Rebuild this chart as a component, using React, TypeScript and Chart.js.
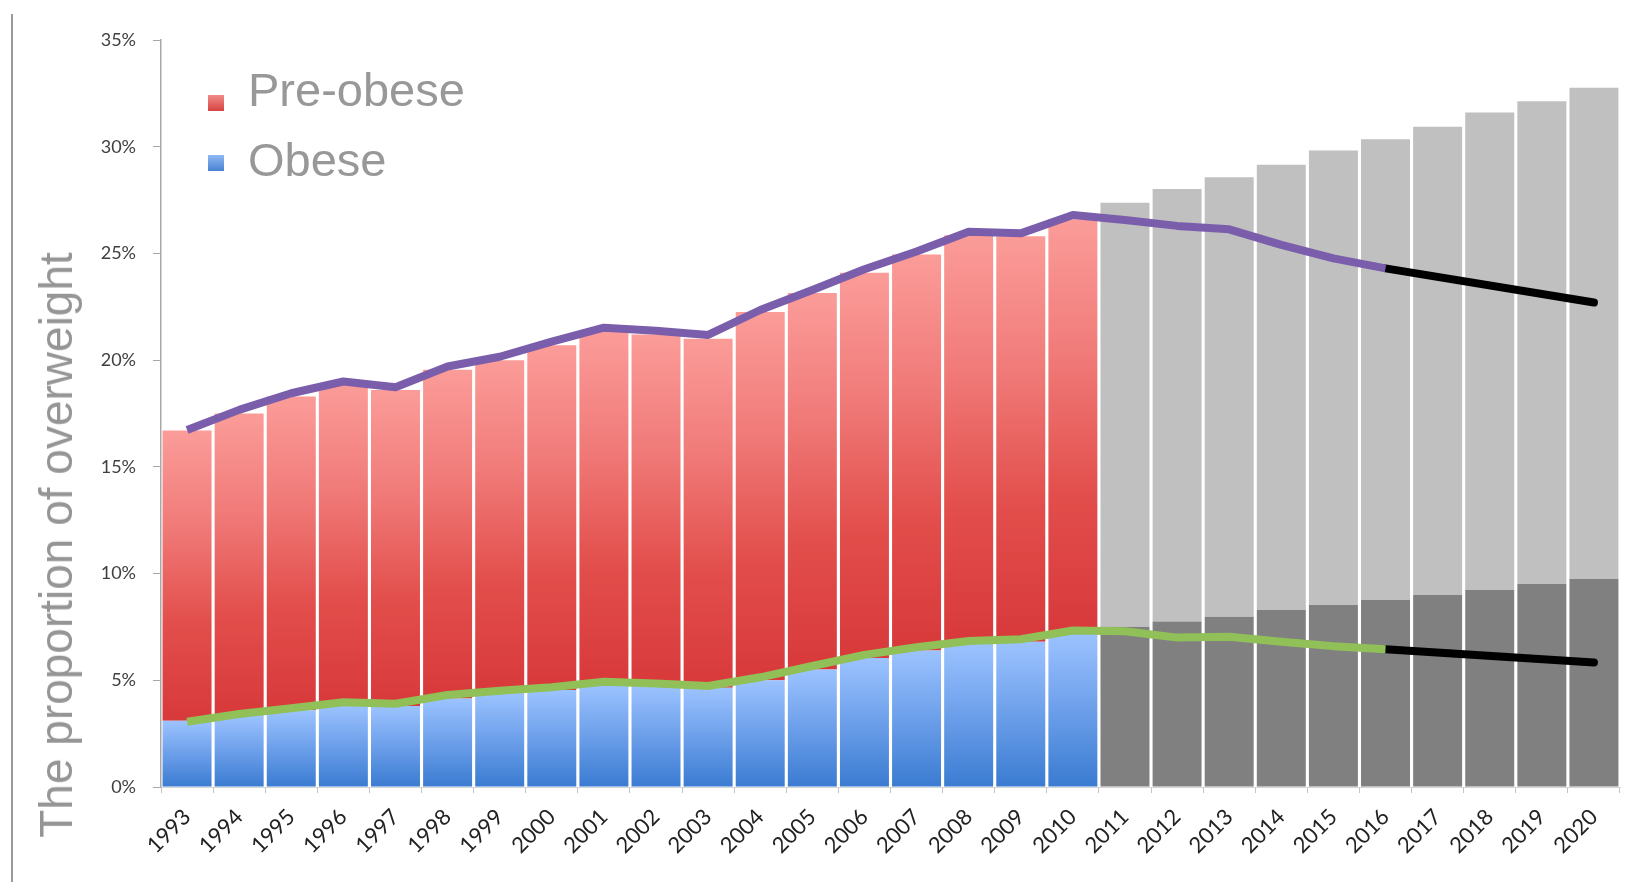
import { useEffect, useRef } from "react";
import { Chart, registerables } from "chart.js";

Chart.register(...registerables);

// Survey years 1993–2010 followed by projected years 2011–2020
const years = [
  "1993", "1994", "1995", "1996", "1997", "1998", "1999", "2000", "2001", "2002",
  "2003", "2004", "2005", "2006", "2007", "2008", "2009", "2010", "2011", "2012",
  "2013", "2014", "2015", "2016", "2017", "2018", "2019", "2020",
];

// index of the first projected year (2011)
const PROJECTION_START = 18;

// share of the population that is obese (%)
const obeseShare = [
  3.1, 3.35, 3.6, 3.85, 3.8, 4.15, 4.4, 4.55, 4.8, 4.75,
  4.65, 5.0, 5.5, 6.05, 6.4, 6.7, 6.8, 7.2, 7.51, 7.75,
  7.98, 8.29, 8.53, 8.76, 9.0, 9.23, 9.51, 9.75,
];

// share of the population that is overweight in total, pre-obese + obese (%)
const overweightShare = [
  16.7, 17.5, 18.3, 18.85, 18.6, 19.55, 20.0, 20.7, 21.35, 21.2,
  21.0, 22.25, 23.15, 24.1, 24.95, 25.85, 25.8, 26.6, 27.38, 28.02,
  28.57, 29.16, 29.82, 30.35, 30.94, 31.6, 32.13, 32.76,
];

// observed trend of total overweight, then the 2016–2020 outlook
const overweightTrend = [
  16.73, 17.67, 18.45, 19.0, 18.73, 19.7, 20.16, 20.87, 21.52, 21.38,
  21.18, 22.35, 23.29, 24.26, 25.09, 26.02, 25.94, 26.8, 26.57, 26.29,
  26.13, 25.4, 24.77, 24.3, null, null, null, null,
];
const overweightOutlook = [
  null, null, null, null, null, null, null, null, null, null,
  null, null, null, null, null, null, null, null, null, null,
  null, null, null, 24.3, null, null, null, 22.7,
];

// observed trend of obesity, then the 2016–2020 outlook
const obeseTrend = [
  3.06, 3.42, 3.69, 3.97, 3.9, 4.31, 4.51, 4.67, 4.93, 4.85,
  4.73, 5.14, 5.67, 6.19, 6.55, 6.84, 6.92, 7.33, 7.3, 7.0,
  7.04, 6.81, 6.6, 6.45, null, null, null, null,
];
const obeseOutlook = [
  null, null, null, null, null, null, null, null, null, null,
  null, null, null, null, null, null, null, null, null, null,
  null, null, null, 6.45, null, null, null, 5.83,
];

const yTickValues = [0, 5, 10, 15, 20, 25, 30, 35];

const preObeseShare = overweightShare.map((t, i) => +(t - obeseShare[i]).toFixed(2));

const RED_STOPS = ["#fb9c99", "#f07a78", "#e24e4b", "#d8393a"];
const BLUE_STOPS = ["#9cc3ff", "#6c9fea", "#3a7bd1"];

function barGradient(c: any, topValue: number, bottomValue: number, stops: string[]) {
  const chart = c.chart;
  const y = chart.scales && chart.scales.y;
  if (!y || !chart.chartArea) return stops[1];
  const top = y.getPixelForValue(topValue);
  const bottom = y.getPixelForValue(bottomValue);
  const g = chart.ctx.createLinearGradient(0, top, 0, bottom);
  stops.forEach((s, i) => g.addColorStop(i / (stops.length - 1), s));
  return g;
}

const TEXT_FONT = "'Liberation Sans', Arial, sans-serif";
const TICK_FONT = "Lato, 'Open Sans', sans-serif";

export default function App() {
  const canvasRef = useRef<HTMLCanvasElement | null>(null);

  useEffect(() => {
    if (!canvasRef.current) return;
    const chart = new Chart(canvasRef.current, {
      type: "bar",
      data: {
        labels: years,
        datasets: [
          {
            type: "line",
            label: "Overweight trend",
            data: overweightTrend,
            yAxisID: "yLine",
            borderColor: "#7b5eab",
            borderWidth: 8,
            pointRadius: 0,
            pointHoverRadius: 0,
            tension: 0,
            borderJoinStyle: "round",
            order: 0,
          },
          {
            type: "line",
            label: "Overweight outlook",
            data: overweightOutlook,
            yAxisID: "yLine",
            borderColor: "#000000",
            borderWidth: 8,
            pointRadius: 0,
            pointHoverRadius: 0,
            spanGaps: true,
            borderCapStyle: "round",
            order: 0,
          },
          {
            type: "line",
            label: "Obesity trend",
            data: obeseTrend,
            yAxisID: "yLine",
            borderColor: "#90c057",
            borderWidth: 8,
            pointRadius: 0,
            pointHoverRadius: 0,
            tension: 0,
            borderJoinStyle: "round",
            order: 0,
          },
          {
            type: "line",
            label: "Obesity outlook",
            data: obeseOutlook,
            yAxisID: "yLine",
            borderColor: "#000000",
            borderWidth: 8,
            pointRadius: 0,
            pointHoverRadius: 0,
            spanGaps: true,
            borderCapStyle: "round",
            order: 0,
          },
          {
            label: "Obese",
            data: obeseShare,
            stack: "share",
            order: 1,
            barPercentage: 0.94,
            categoryPercentage: 1,
            backgroundColor: (c: any) =>
              c.dataIndex >= PROJECTION_START
                ? "#808080"
                : barGradient(c, obeseShare[c.dataIndex], 0, BLUE_STOPS),
          },
          {
            label: "Pre-obese",
            data: preObeseShare,
            stack: "share",
            order: 1,
            barPercentage: 0.94,
            categoryPercentage: 1,
            backgroundColor: (c: any) =>
              c.dataIndex >= PROJECTION_START
                ? "#c0c0c0"
                : barGradient(c, overweightShare[c.dataIndex], obeseShare[c.dataIndex], RED_STOPS),
          },
        ],
      } as any,
      options: {
        animation: false,
        responsive: false,
        devicePixelRatio: 1,
        events: [],
        layout: { padding: { left: 0, top: 40, right: 17, bottom: 0 } },
        plugins: {
          legend: { display: false },
          tooltip: { enabled: false },
          title: { display: false },
        },
        scales: {
          x: {
            stacked: true,
            offset: true,
            grid: {
              display: true,
              drawOnChartArea: false,
              drawTicks: true,
              tickLength: 6,
              color: "#c4c4c4",
              offset: true,
            },
            border: { display: true, color: "#d4d4d4", width: 1 },
            ticks: {
              autoSkip: false,
              minRotation: 45,
              maxRotation: 45,
              padding: 11,
              color: "#222222",
              font: { family: TICK_FONT, size: 22 },
            },
            afterFit: (s: any) => {
              s.height = 95;
            },
          },
          y: {
            stacked: true,
            min: 0,
            max: 35,
            afterBuildTicks: (s: any) => {
              s.ticks = yTickValues.map((v) => ({ value: v }));
            },
            ticks: {
              callback: (v: any) => `${v}%`,
              padding: 17,
              color: "#404040",
              font: { family: TICK_FONT, size: 18 },
            },
            grid: {
              drawOnChartArea: false,
              drawTicks: true,
              tickLength: 8,
              color: "#a8a8a8",
            },
            border: { display: true, color: "#a8a8a8", width: 1.5 },
            afterFit: (s: any) => {
              s.width = 161;
            },
          },
          yLine: {
            display: false,
            min: 0,
            max: 35,
          },
        },
      } as any,
    });
    return () => chart.destroy();
  }, []);

  const square = (bg: string, top: number) => ({
    position: "absolute" as const,
    left: 208,
    top,
    width: 16,
    height: 16,
    background: bg,
  });

  const legendText = (top: number) => ({
    position: "absolute" as const,
    left: 248,
    top,
    font: `47px ${TEXT_FONT}`,
    lineHeight: "47px",
    color: "#989898",
    whiteSpace: "nowrap" as const,
  });

  return (
    <div
      style={{
        position: "fixed",
        left: 0,
        top: 0,
        width: 1637,
        height: 882,
        background: "#ffffff",
        overflow: "hidden",
      }}
    >
      <div
        style={{
          position: "absolute",
          left: 11,
          top: 14,
          width: 2,
          height: 868,
          background: "#9a9a9a",
        }}
      />
      <canvas
        ref={canvasRef}
        width={1637}
        height={882}
        style={{ position: "absolute", left: 0, top: 0, width: 1637, height: 882 }}
      />
      <div
        style={{
          position: "absolute",
          left: 56,
          top: 545,
          transform: "translate(-50%, -50%) rotate(-90deg)",
          font: `46px ${TEXT_FONT}`,
          lineHeight: "46px",
          color: "#959595",
          whiteSpace: "nowrap",
        }}
      >
        The proportion of overweight
      </div>
      <div style={square("linear-gradient(#f08a88, #d64442)", 95)} />
      <div style={legendText(66)}>Pre-obese</div>
      <div style={square("linear-gradient(#8fb9f5, #4a82d2)", 155)} />
      <div style={legendText(136)}>Obese</div>
    </div>
  );
}
